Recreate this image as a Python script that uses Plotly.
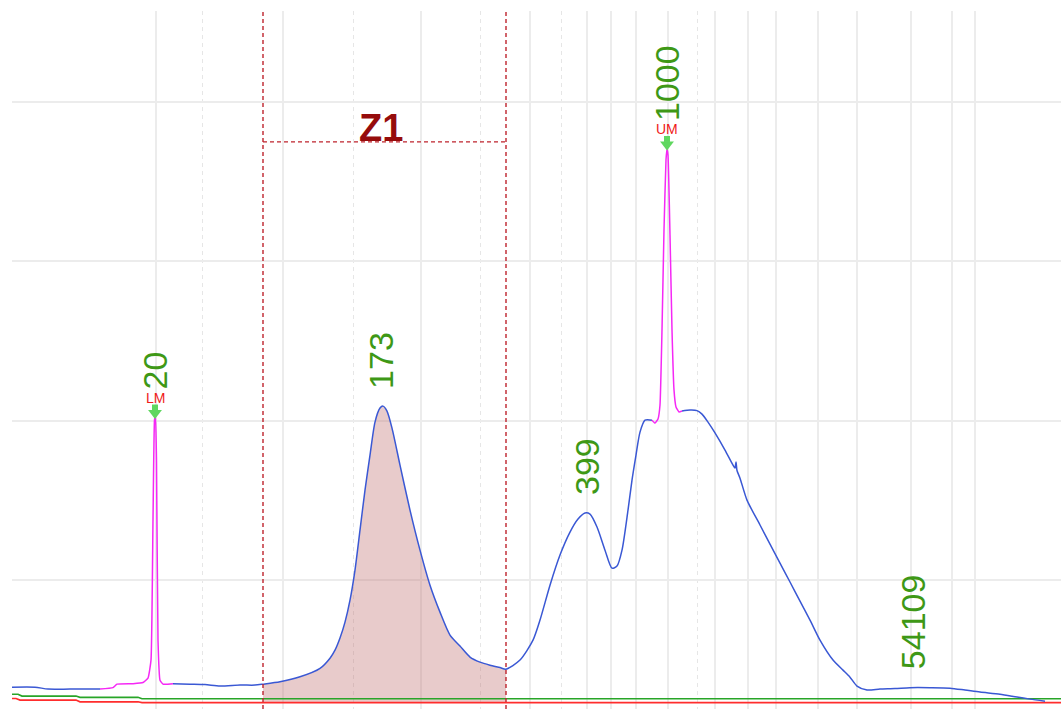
import numpy as np
import plotly.graph_objects as go

# ---------------- data (migration position, fluorescence units) ----------------
sample_a_x = [12, 35, 48, 70, 100]
sample_a_y = [32.8, 32.8, 31.6, 31.6, 31.6]

lower_marker_x = [100, 113, 117, 133, 143, 148, 151, 153, 154.5, 155.5, 156.5, 158, 160, 163, 173]
lower_marker_y = [31.6, 32.5, 34.7, 35.0, 35.7, 38.5, 49.8, 137.8, 200.4, 203.7, 175.0, 62.3, 37.2, 34.7, 35.0]

sample_b_x = [173, 190, 205, 220, 240, 255, 263, 280, 300, 320, 330, 335, 340, 345, 350, 355, 360, 365,
              370, 375, 380, 383, 387, 392, 400, 410, 420, 430, 440, 450, 460, 470, 480, 490, 500, 506,
              520, 533, 540, 550, 560, 570, 578, 585, 590, 597, 605, 612, 617, 622, 628, 632, 636, 640,
              645, 652]
sample_b_y = [35.0, 34.7, 34.4, 33.5, 34.1, 34.1, 34.7, 36.2, 39.3, 44.6, 51.0, 56.0, 63.6, 73.6, 87.4,
              106.3, 131.4, 156.5, 178.5, 199.2, 208.0, 209.2, 206.1, 195.4, 172.2, 143.9, 118.8, 96.8,
              79.9, 65.5, 58.6, 51.7, 48.5, 46.6, 45.1, 44.1, 49.8, 62.3, 74.9, 96.8, 115.7, 130.1, 138.3,
              142.1, 141.4, 133.3, 118.8, 107.5, 108.8, 118.8, 143.9, 162.8, 178.5, 192.9, 200.4, 200.4]

upper_marker_x = [652, 655, 658, 660, 662, 664, 666, 667, 668, 670, 672, 674, 676, 679, 682]
upper_marker_y = [200.4, 198.6, 201.1, 209.9, 257.0, 319.8, 363.8, 370.6, 366.8, 316.7, 257.0, 219.4,
                  208.7, 205.5, 206.1]

sample_c_x = [682, 690, 697, 702, 708, 715, 725, 733, 735, 736, 737, 740, 747, 760, 770, 780, 790, 800,
              810, 820, 833, 843, 850, 857, 867, 880, 895, 910, 930, 950, 965, 980, 1000, 1017, 1030, 1045]
sample_c_y = [206.1, 206.7, 206.4, 204.2, 199.2, 192.4, 181.6, 172.2, 170.3, 174.1, 168.8, 164.0, 150.2,
              134.6, 122.6, 110.7, 98.8, 86.8, 74.9, 62.3, 49.8, 43.5, 39.1, 33.5, 31.0, 31.6, 31.9, 32.5,
              32.5, 32.2, 31.0, 29.7, 28.4, 26.6, 25.3, 24.0]

green_x = [12, 18, 22, 76, 80, 138, 142, 1061]
green_y = [28.4, 28.4, 27.2, 27.2, 26.4, 26.4, 25.5, 25.5]
red_x = [12, 16, 20, 76, 80, 138, 142, 1061]
red_y = [25.7, 25.7, 24.7, 24.7, 23.6, 23.6, 23.1, 23.1]

peak_x = [155, 381, 587, 667, 913]
peak_labels = ["20", "173", "399", "1000", "54109"]
marker_x = [155, 667]
marker_labels = ["LM", "UM"]

zone_start, zone_end = 263, 506
zone_label = "Z1"
zone_level = 375.0

grid_major = [156, 283, 421, 530, 587, 611, 636, 668, 715, 748, 776, 818, 857, 911, 952, 975]
grid_minor = [202, 353, 480, 561, 697]
y_grid = [100, 200, 300, 400]

X_RANGE = [12, 1061]
Y_RANGE = [19.1, 457.2]

# ---------------- figure ----------------
W, H = 1061, 709
M = dict(l=12, r=0, t=11, b=0)
plot_h = H - M["t"] - M["b"]
upp = (Y_RANGE[1] - Y_RANGE[0]) / plot_h  # units per pixel

all_x = np.array(sample_a_x + lower_marker_x + sample_b_x + upper_marker_x + sample_c_x, dtype=float)
all_y = np.array(sample_a_y + lower_marker_y + sample_b_y + upper_marker_y + sample_c_y, dtype=float)
order = np.argsort(all_x, kind="stable")
apex = np.interp(peak_x, all_x[order], all_y[order])
m_apex = np.interp(marker_x, all_x[order], all_y[order])

BLUE = "rgb(58,88,212)"
MAGENTA = "rgb(245,40,245)"
GREEN = "rgb(40,165,40)"
RED = "rgb(255,45,45)"
LABEL_GREEN = "rgb(62,152,22)"
ZRED = "rgb(190,35,45)"
FONT = "Liberation Sans, Arial"

fig = go.Figure()

# zone fill
bx = np.array(sample_b_x, dtype=float)
by = np.array(sample_b_y, dtype=float)
sel = (bx >= zone_start) & (bx <= zone_end)
fig.add_trace(go.Scatter(x=[zone_start, zone_end], y=[red_y[-1], red_y[-1]], mode="lines",
                         line=dict(width=0), hoverinfo="skip", showlegend=False))
fig.add_trace(go.Scatter(x=bx[sel], y=by[sel], mode="lines", line=dict(width=0, shape="spline", smoothing=0.7),
                         fill="tonexty", fillcolor="rgba(190,110,110,0.36)",
                         hoverinfo="skip", showlegend=False))

fig.add_trace(go.Scatter(x=green_x, y=green_y, mode="lines", line=dict(color=GREEN, width=1.6),
                         showlegend=False))
fig.add_trace(go.Scatter(x=red_x, y=red_y, mode="lines", line=dict(color=RED, width=1.6),
                         showlegend=False))

for sx, sy in [(sample_a_x, sample_a_y), (sample_b_x, sample_b_y), (sample_c_x, sample_c_y)]:
    fig.add_trace(go.Scatter(x=sx, y=sy, mode="lines",
                             line=dict(color=BLUE, width=1.5, shape="spline", smoothing=0.7),
                             showlegend=False))
for sx, sy in [(lower_marker_x, lower_marker_y), (upper_marker_x, upper_marker_y)]:
    fig.add_trace(go.Scatter(x=sx, y=sy, mode="lines",
                             line=dict(color=MAGENTA, width=1.5, shape="spline", smoothing=0.4),
                             showlegend=False))

# marker arrows
fig.add_trace(go.Scatter(x=marker_x, y=m_apex + 4.5 * upp, mode="markers",
                         marker=dict(symbol="triangle-down", size=12, color="rgb(95,215,95)",
                                     line=dict(width=0)), showlegend=False))
fig.add_trace(go.Scatter(x=marker_x, y=m_apex + 10 * upp, mode="markers",
                         marker=dict(symbol="square", size=6, color="rgb(95,215,95)",
                                     line=dict(width=0)), showlegend=False))

# zone lines
shapes = []
for zx in (zone_start, zone_end):
    shapes.append(dict(type="line", xref="x", yref="paper", x0=zx, x1=zx, y0=0, y1=1,
                       line=dict(color=ZRED, width=1.4, dash="4px,3px"), layer="above"))
shapes.append(dict(type="line", xref="x", yref="y", x0=zone_start, x1=zone_end, y0=zone_level,
                   y1=zone_level, line=dict(color=ZRED, width=1.2, dash="4px,3px"), layer="above"))

annotations = []
for px_, lab, ap in zip(peak_x, peak_labels, apex):
    shift = 26 if px_ in marker_x else 16
    annotations.append(dict(x=px_, y=ap, text=lab, showarrow=False, textangle=-90,
                            xanchor="center", yanchor="bottom", yshift=shift,
                            font=dict(family=FONT, size=34, color=LABEL_GREEN)))
for mx, lab, ap in zip(marker_x, marker_labels, m_apex):
    annotations.append(dict(x=mx, y=ap, text=lab, showarrow=False, xanchor="center",
                            yanchor="middle", yshift=19.5,
                            font=dict(family=FONT, size=14, color="rgb(240,25,25)")))
annotations.append(dict(x=(zone_start + zone_end) / 2 - 3.5, y=zone_level, text="<b>" + zone_label + "</b>",
                        showarrow=False, xanchor="center", yanchor="middle", yshift=14,
                        font=dict(family=FONT, size=38, color="rgb(150,12,12)")))

fig.update_layout(
    width=W, height=H, margin=M, paper_bgcolor="white", plot_bgcolor="white",
    shapes=shapes, annotations=annotations, showlegend=False,
    xaxis=dict(range=X_RANGE, tickmode="array", tickvals=grid_major, showticklabels=False,
               ticks="", showgrid=True, gridcolor="#ececec", gridwidth=1.6, zeroline=False,
               showline=False,
               minor=dict(tickmode="array", tickvals=grid_minor, showgrid=True, gridcolor="#e6e6e6",
                          gridwidth=1.2, griddash="4px,4px", ticks="")),
    yaxis=dict(range=Y_RANGE, tickmode="array", tickvals=y_grid, showticklabels=False, ticks="",
               showgrid=True, gridcolor="#ececec", gridwidth=1.6, zeroline=False, showline=False),
)

fig.write_html("out.html")
